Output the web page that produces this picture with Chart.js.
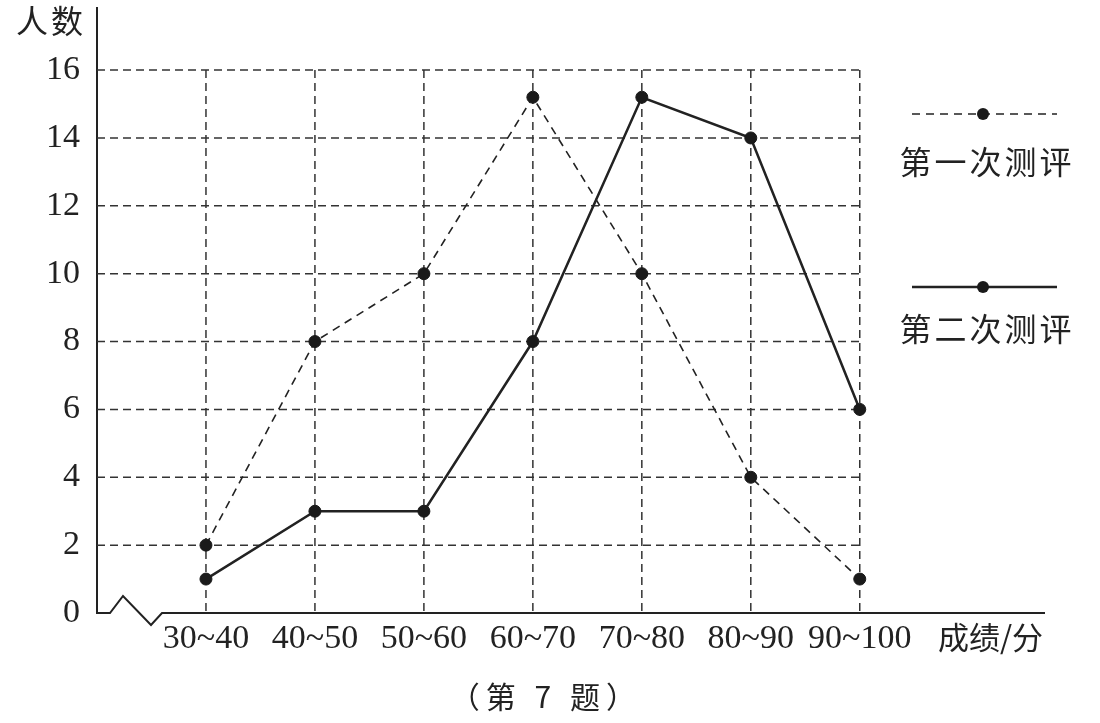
<!DOCTYPE html>
<html><head><meta charset="utf-8">
<script src="https://cdn.jsdelivr.net/npm/chart.js@4"></script>
<style>html,body{margin:0;padding:0;background:#fff}#wrap{width:1100px;height:723px}</style>
</head><body><div id="wrap"><canvas id="c" width="1100" height="723"></canvas></div>
<script>
// ---- data ----
const categories = ['30~40', '40~50', '50~60', '60~70', '70~80', '80~90', '90~100'];
const firstTest = [2, 8, 10, 15.2, 10, 4, 1];
const secondTest = [1, 3, 3, 8, 15.2, 14, 6];
const yTickValues = [0, 2, 4, 6, 8, 10, 12, 14, 16];
const seriesNames = ['第一次测评', '第二次测评'];
const yAxisName = '人数';
const xAxisName = '成绩/分';
const captionText = '（第 7 题）';

// ---- styles ----
const INK = '#222';
const SERIF = "'Liberation Serif', 'Noto Sans CJK SC', serif";
const CJK = "'Noto Sans CJK SC', 'Liberation Serif', sans-serif";
const xAxisNamePos = 7.2;

const decor = {
  id: 'decor',
  beforeDatasetsDraw(chart) {
    const {ctx, scales: {x, y}, chartArea} = chart;
    const xL = x.getPixelForValue(x.min);
    const xR = x.getPixelForValue(categories.length - 1);
    const yTop = y.getPixelForValue(yTickValues[yTickValues.length - 1]);
    const y0 = y.getPixelForValue(0);
    ctx.save();
    ctx.strokeStyle = '#333';
    ctx.lineWidth = 1.5;
    ctx.setLineDash([8, 5]);
    yTickValues.forEach(v => {
      if (v === 0) return;
      const py = y.getPixelForValue(v);
      ctx.beginPath(); ctx.moveTo(xL, py); ctx.lineTo(xR, py); ctx.stroke();
    });
    categories.forEach((c, i) => {
      const px = x.getPixelForValue(i);
      ctx.beginPath(); ctx.moveTo(px, yTop); ctx.lineTo(px, y0); ctx.stroke();
    });
    // axis with break
    ctx.setLineDash([]);
    ctx.lineWidth = 2;
    ctx.strokeStyle = INK;
    ctx.beginPath();
    ctx.moveTo(xL, y0);
    ctx.lineTo(xL + 13, y0);
    ctx.lineTo(xL + 26, y0 - 17);
    ctx.lineTo(xL + 54, y0 + 12);
    ctx.lineTo(xL + 65, y0);
    ctx.lineTo(chartArea.right, y0);
    ctx.stroke();
    ctx.restore();
  },
  afterDraw(chart) {
    const {ctx, scales: {x, y}, chartArea} = chart;
    ctx.save();
    ctx.fillStyle = INK;
    ctx.textAlign = 'center';
    ctx.textBaseline = 'middle';
    // y axis name
    ctx.font = "32px " + CJK;
    ctx.letterSpacing = '3px';
    ctx.fillText(yAxisName, 51, 21);
    // legend
    const cx = chartArea.right - 62;
    const lx1 = chartArea.right - 133, lx2 = chartArea.right + 12;
    const rows = [{ly: 114, ty: 162, ds: 0}, {ly: 287, ty: 329, ds: 1}];
    rows.forEach(r => {
      const d = chart.data.datasets[r.ds];
      ctx.strokeStyle = d.borderColor;
      ctx.lineWidth = d.borderWidth;
      ctx.setLineDash(d.borderDash || []);
      ctx.beginPath(); ctx.moveTo(lx1, r.ly); ctx.lineTo(lx2, r.ly); ctx.stroke();
      ctx.setLineDash([]);
      ctx.beginPath(); ctx.arc(cx, r.ly, d.pointRadius, 0, Math.PI * 2); ctx.fillStyle = d.pointBackgroundColor; ctx.fill();
      ctx.fillStyle = INK;
      ctx.font = "32px " + CJK;
      ctx.letterSpacing = '3px';
      ctx.fillText(d.label, cx + 4, r.ty);
    });
    // caption
    ctx.letterSpacing = '6px';
    ctx.font = "30px " + CJK;
    ctx.fillText(captionText, x.getPixelForValue(3) + 13, 697);
    ctx.restore();
  }
};

new Chart(document.getElementById('c'), {
  type: 'line',
  data: {
    datasets: [
      {
        label: seriesNames[0],
        data: categories.map((c, i) => ({x: i, y: firstTest[i]})),
        borderColor: INK, borderWidth: 1.6, borderDash: [8, 6],
        pointRadius: 6, pointBackgroundColor: '#1a1a1a', pointBorderColor: '#1a1a1a', pointBorderWidth: 1,
        tension: 0, fill: false, clip: false
      },
      {
        label: seriesNames[1],
        data: categories.map((c, i) => ({x: i, y: secondTest[i]})),
        borderColor: INK, borderWidth: 2.5,
        pointRadius: 6, pointBackgroundColor: '#1a1a1a', pointBorderColor: '#1a1a1a', pointBorderWidth: 1,
        tension: 0, fill: false, clip: false
      }
    ]
  },
  options: {
    responsive: false,
    animation: false,
    layout: {padding: {top: 8, right: 55, left: 0, bottom: 48}},
    plugins: {legend: {display: false}, tooltip: {enabled: false}, title: {display: false}},
    scales: {
      x: {
        type: 'linear', min: -1, max: 7.7,
        afterBuildTicks: s => { s.ticks = categories.map((c, i) => ({value: i})).concat([{value: xAxisNamePos}]); },
        afterFit: s => { s.height = 62; s.paddingLeft = 0; },
        grid: {display: false, drawTicks: false},
        border: {display: false},
        ticks: {
          autoSkip: false, maxRotation: 0, minRotation: 0, padding: 6, color: INK,
          font: ctx => (ctx.index === categories.length ? {family: CJK, size: 31} : {family: SERIF, size: 34}),
          callback: (v, i) => (i < categories.length ? categories[i] : xAxisName)
        }
      },
      y: {
        min: 0, max: 17.83,
        afterBuildTicks: s => { s.ticks = yTickValues.map(v => ({value: v})); },
        afterFit: s => { s.width = 97; s.paddingTop = 0; s.paddingBottom = 0; },
        grid: {display: false, drawTicks: false},
        border: {display: true, color: INK, width: 2},
        ticks: {padding: 17, color: INK, font: {family: SERIF, size: 34}}
      }
    }
  },
  plugins: [decor]
});
</script>
</body></html>
